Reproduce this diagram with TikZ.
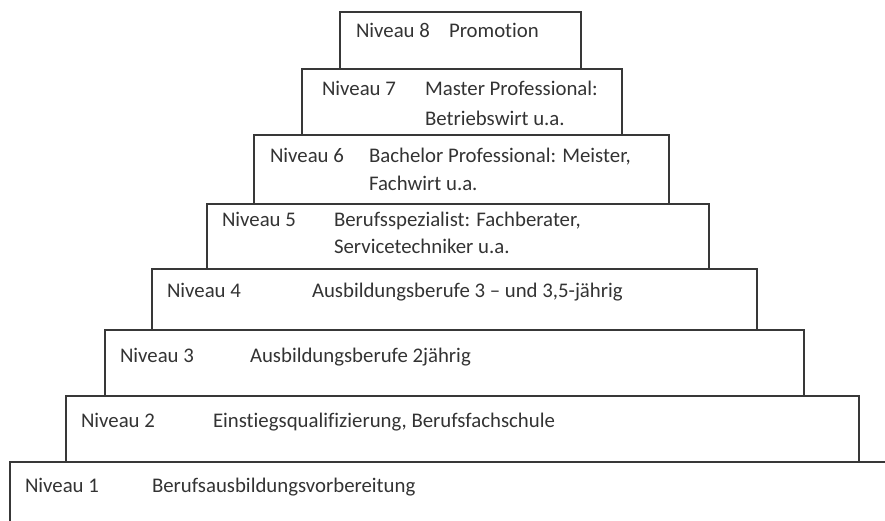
\documentclass[tikz,border=0pt]{standalone}
\usepackage{fontspec}
\setmainfont{Carlito}[Ligatures={NoCommon}]
\begin{document}
\begin{tikzpicture}[x=1pt,y=-1pt,
  pbox/.style={draw=black!78, line width=1.3pt, rectangle, anchor=north west, inner sep=0pt, outer sep=0pt},
  lbl/.style={anchor=base west, inner sep=0pt, outer sep=0pt, text=black!80, font=\fontsize{20.8pt}{29pt}\selectfont}]
\useasboundingbox (0,0) rectangle (885,521);
% boxes (bottom to top so upper edges sit on top)
\node[pbox, minimum width=900pt, minimum height=90pt] (b1) at (10,462) {};
\node[pbox, minimum width=793pt, minimum height=66pt] (b2) at (66,396) {};
\node[pbox, minimum width=699pt, minimum height=66pt] (b3) at (105,330) {};
\node[pbox, minimum width=605pt, minimum height=61pt] (b4) at (152,269) {};
\node[pbox, minimum width=502pt, minimum height=65pt] (b5) at (207,204) {};
\node[pbox, minimum width=415pt, minimum height=69pt] (b6) at (254,135) {};
\node[pbox, minimum width=320pt, minimum height=66pt] (b7) at (302,69) {};
\node[pbox, minimum width=241pt, minimum height=57pt] (b8) at (340,12) {};
% labels
\node[lbl] (n8) at (356,38) {Niveau 8};
\node[lbl] (t8) at (449,38) {Promotion};
\node[lbl] (n7) at (322,96) {Niveau 7};
\node[lbl] (t7) at (425,96) {Master Professional:};
\node[lbl] (u7) at (425,126) {Betriebswirt u.a.};
\node[lbl] (n6) at (270,163) {Niveau 6};
\node[lbl] (t6) at (369,163) {Bachelor Professional: Meister,};
\node[lbl] (u6) at (369,191) {Fachwirt u.a.};
\node[lbl] (n5) at (222,226) {Niveau 5};
\node[lbl] (t5) at (334,226) {Berufsspezialist: Fachberater,};
\node[lbl] (u5) at (334,254) {Servicetechniker u.a.};
\node[lbl] (n4) at (167,297) {Niveau 4};
\node[lbl] (t4) at (312,297) {Ausbildungsberufe 3 – und 3,5-jährig};
\node[lbl] (n3) at (120,362) {Niveau 3};
\node[lbl] (t3) at (250,362) {Ausbildungsberufe 2jährig};
\node[lbl] (n2) at (81,427) {Niveau 2};
\node[lbl] (t2) at (213,427) {Einstiegsqualifizierung, Berufsfachschule};
\node[lbl] (n1) at (25,492) {Niveau 1};
\node[lbl] (t1) at (152,492) {Berufsausbildungsvorbereitung};
\end{tikzpicture}
\end{document}
